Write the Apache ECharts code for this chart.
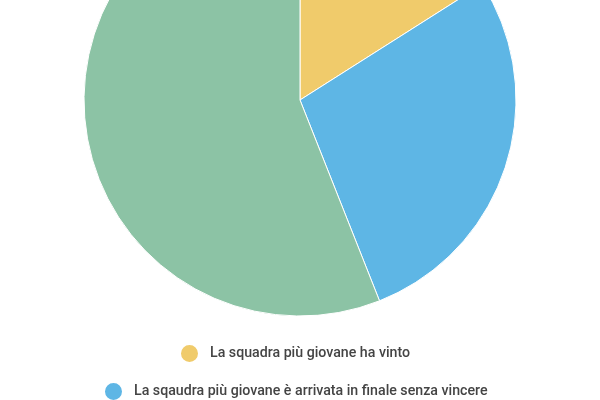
<!DOCTYPE html>
<html><head><meta charset="utf-8">
<script src="https://cdn.jsdelivr.net/npm/echarts@6/dist/echarts.min.js"></script>
<style>html,body{margin:0;padding:0;background:#fff}#c{width:600px;height:400px}</style>
</head><body><div id="c"></div>
<script>
var categories = [
  "La squadra più giovane ha vinto",
  "La sqaudra più giovane è arrivata in finale senza vincere",
  "La squadra più giovane non è arrivata in finale"
];
var values = [4, 7, 14];
var colors = ["#F0CB6B", "#5EB6E5", "#8CC3A5"];

var chart = echarts.init(document.getElementById('c'));
var data = categories.map(function(n, i){ return {name: n, value: values[i], itemStyle: {color: colors[i]}}; });
var legendTops = [343, 381, 419];
var fontCss = '500 14.2px Roboto';
var ctx = document.createElement('canvas').getContext('2d');
ctx.font = fontCss;
var iconSize = 19;
var legends = categories.map(function(n, i){
  var w = iconSize + 5 + 6 + ctx.measureText(n).width;
  return {
    data: [n], left: Math.round(294.5 - w / 2), top: legendTops[i], icon: 'circle',
    padding: 0,
    itemWidth: iconSize, itemHeight: iconSize, itemGap: 12, selectedMode: false,
    textStyle: {fontFamily: 'Roboto', fontSize: 14.2, fontWeight: 500, color: '#444', padding: [0,0,0,6]}
  };
});
chart.setOption({
  animation: false,
  color: colors,
  legend: legends,
  series: [{
    type: 'pie',
    center: [300, 100],
    radius: 216,
    startAngle: 90,
    clockwise: true,
    label: {show: false},
    labelLine: {show: false},
    itemStyle: {borderColor: '#fff', borderWidth: 1},
    data: data
  }]
});
</script></body></html>
